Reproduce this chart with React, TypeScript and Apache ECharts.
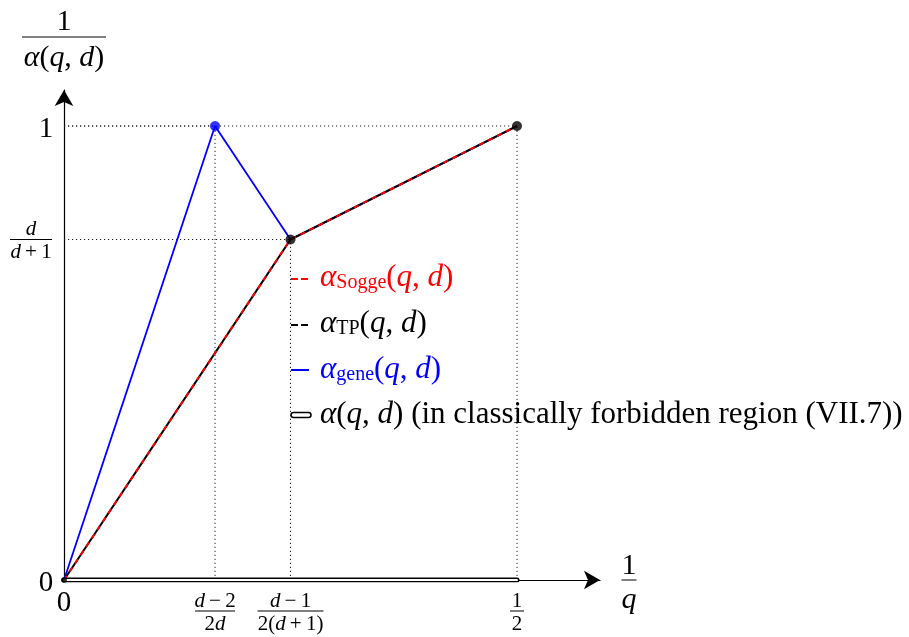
import React, { useEffect, useRef } from "react";
import * as echarts from "echarts";

// ---- data (d = 3) ----
const soggeX = [0, 0.25, 0.5];
const soggeY = [0, 0.75, 1];
const tpX = [0, 0.25, 0.5];
const tpY = [0, 0.75, 1];
const geneX = [0, 0.1667, 0.25, 0.5];
const geneY = [0, 1, 0.75, 1];
const forbiddenX = [0, 0.5];
const forbiddenY = [0, 0];
const blueDotsX = [0.1667];
const blueDotsY = [1];
const blackDotsX = [0.25, 0.5];
const blackDotsY = [0.75, 1];
const xTickValues = [0.1667, 0.25, 0.5];
const xTickNum = ["{i|d}{r|\u2009−\u20092}", "{i|d}{r|\u2009−\u20091}", "{r|1}"];
const xTickDen = ["{r|2}{i|d}", "{r|2(}{i|d}{r|\u2009+\u20091)}", "{r|2}"];
const yTickValues = [0.75];
const yTickNum = ["{i|d}"];
const yTickDen = ["{i|d}{r|\u2009+\u20091}"];

const FONT = "'Liberation Serif', 'DejaVu Serif', serif";

const zip = (xs: number[], ys: number[]) => xs.map((x, i) => [x, ys[i]]);

const richBase = (size: number) => ({
  r: { fontFamily: FONT, fontSize: size, color: "#000" },
  i: { fontFamily: FONT, fontSize: size, fontStyle: "italic", color: "#000" },
});

function fraction(cx: number, cy: number, num: string, den: string, size: number, w: number, gap = 1) {
  return [
    {
      type: "text",
      x: cx,
      y: cy - gap,
      style: { text: num, rich: richBase(size), align: "center", verticalAlign: "bottom", fontFamily: FONT, fontSize: size },
    },
    { type: "line", shape: { x1: cx - w / 2, y1: cy, x2: cx + w / 2, y2: cy }, style: { stroke: "#000", lineWidth: 1 } },
    {
      type: "text",
      x: cx,
      y: cy + gap,
      style: { text: den, rich: richBase(size), align: "center", verticalAlign: "top", fontFamily: FONT, fontSize: size },
    },
  ];
}

export default function App() {
  const ref = useRef<HTMLDivElement>(null);
  useEffect(() => {
    if (!ref.current) return;
    const chart = echarts.init(ref.current, undefined, { renderer: "svg" });

    const guides: any[] = [];
    const marked = [...zip(blueDotsX, blueDotsY), ...zip(blackDotsX, blackDotsY)];
    const guideStyle = { color: "#222", width: 1, type: [1.2, 2.8] };
    marked.forEach(([x, y], k) => {
      guides.push({ type: "line", name: "gh" + k, data: [[0, y], [x, y]], symbol: "none", silent: true, lineStyle: guideStyle, z: 1 });
      guides.push({ type: "line", name: "gv" + k, data: [[x, 0], [x, y]], symbol: "none", silent: true, lineStyle: guideStyle, z: 1 });
    });

    const LS = 31;
    const LH = 30;
    const legendRich = {
      a: { fontFamily: FONT, fontSize: LS, fontStyle: "italic", lineHeight: LH },
      s: { fontFamily: FONT, fontSize: 20, padding: [12, 0, 0, 0], lineHeight: LH - 12 },
      b: { fontFamily: FONT, fontSize: LS, lineHeight: LH },
      i: { fontFamily: FONT, fontSize: LS, fontStyle: "italic", lineHeight: LH },
    };
    const legendText: Record<string, string> = {
      Sogge: "{a|α}{s|Sogge}{b|(}{i|q}{b|, }{i|d}{b|)}",
      TP: "{a|α}{s|TP}{b|(}{i|q}{b|, }{i|d}{b|)}",
      gene: "{a|α}{s|gene}{b|(}{i|q}{b|, }{i|d}{b|)}",
      forbidden: "{a|α}{b|(}{i|q}{b|, }{i|d}{b|) (in classically forbidden region (VII.7))}",
    };

    chart.setOption({
      animation: false,
      grid: { left: 64, right: 909 - 600, top: 90, bottom: 57, containLabel: false },
      xAxis: {
        type: "value",
        min: 0,
        max: 0.5916,
        axisLine: { lineStyle: { color: "#000", width: 1.2 }, symbol: ["none", "arrow"], symbolSize: [14, 16] },
        axisTick: { show: false },
        axisLabel: { show: false },
        splitLine: { show: false },
      },
      yAxis: {
        type: "value",
        min: 0,
        max: 1.0793,
        axisLine: { show: true, lineStyle: { color: "#000", width: 1.2 }, symbol: ["none", "arrow"], symbolSize: [14, 16] },
        axisTick: { show: false },
        axisLabel: { show: false },
        splitLine: { show: false },
      },
      legend: {
        orient: "vertical",
        left: 291,
        top: 259,
        padding: 0,
        itemWidth: 24,
        itemHeight: 6,
        itemGap: 14,
        icon: "rect",
        itemStyle: { opacity: 0 },
        selectedMode: false,
        textStyle: { fontFamily: FONT, fontSize: LS, lineHeight: LH, rich: legendRich },
        formatter: (name: string) => legendText[name],
        data: [
          { name: "Sogge", textStyle: { color: "#ff0000" } },
          { name: "TP", textStyle: { color: "#000" } },
          { name: "gene", textStyle: { color: "#0000ff" } },
          { name: "forbidden", textStyle: { color: "#000" } },
        ],
      },
      series: [
        ...guides,
        {
          type: "line",
          name: "gene",
          data: zip(geneX, geneY),
          symbol: "none",
          lineStyle: { color: "#0000ff", width: 1.8 },
          itemStyle: { color: "#0000ff" },
          z: 2,
        },
        {
          type: "line",
          name: "TP",
          data: zip(tpX, tpY),
          symbol: "none",
          lineStyle: { color: "#000", width: 2 },
          itemStyle: { color: "#000" },
          z: 3,
        },
        {
          type: "line",
          name: "Sogge",
          data: zip(soggeX, soggeY),
          symbol: "none",
          lineStyle: { color: "#ff0000", width: 2, type: [5, 5] },
          itemStyle: { color: "#ff0000" },
          z: 4,
        },
        {
          type: "line",
          name: "forbidden",
          data: zip(forbiddenX, forbiddenY),
          symbol: "none",
          lineStyle: { color: "#000", width: 5, cap: "round" },
          itemStyle: { color: "#000" },
          z: 6,
        },
        {
          type: "line",
          name: "forbiddenInner",
          data: zip(forbiddenX, forbiddenY),
          symbol: "none",
          lineStyle: { color: "#fff", width: 2, cap: "round" },
          z: 7,
        },
        {
          type: "scatter",
          name: "blueDots",
          data: zip(blueDotsX, blueDotsY),
          symbolSize: 10,
          itemStyle: { color: "#0000ff" },
          z: 8,
        },
        {
          type: "scatter",
          name: "blackDots",
          data: zip(blackDotsX, blackDotsY),
          symbolSize: 10,
          itemStyle: { color: "#000" },
          z: 8,
        },
        {
          type: "scatter",
          name: "origin",
          data: [[0, 0]],
          symbolSize: 6,
          itemStyle: { color: "#000" },
          z: 9,
        },
      ],
    });

    const px = (x: number, y: number) => chart.convertToPixel({ gridIndex: 0 }, [x, y]) as number[];
    const o = px(0, 0);
    const g: any[] = [];
    // tick labels "0", "0", "1"
    const big = { fontFamily: FONT, fontSize: 29, align: "center", verticalAlign: "middle" };
    g.push({ type: "text", x: o[0] - 18, y: o[1] + 1, style: { text: "0", ...big } });
    g.push({ type: "text", x: o[0], y: o[1] + 21, style: { text: "0", ...big } });
    const one = px(0, 1);
    g.push({ type: "text", x: one[0] - 18, y: one[1] + 1, style: { text: "1", ...big } });
    const xw = [40, 66, 14];
    xTickValues.forEach((v, i) => {
      const p = px(v, 0);
      g.push(...fraction(p[0], p[1] + 31, xTickNum[i], xTickDen[i], 21, xw[i]));
    });
    yTickValues.forEach((v, i) => {
      const p = px(0, v);
      g.push(...fraction(p[0] - 33, p[1], yTickNum[i], yTickDen[i], 21, 42));
    });
    // axis titles
    const xEnd = px(0.5916, 0);
    g.push(...fraction(xEnd[0] + 29, xEnd[1], "{r|1}", "{i|q}", 30, 15, 2));
    const yEnd = px(0, 1.0793);
    g.push(...fraction(yEnd[0], yEnd[1] - 53, "{r|1}", "{i|α}{r|(}{i|q}{r|, }{i|d}{r|)}", 30, 84, 3));

    // legend icons (drawn beside the legend texts)
    const iconX = 291;
    const rows = [279, 325, 370, 415];
    g.push({ type: "line", shape: { x1: iconX, y1: rows[0], x2: iconX + 18, y2: rows[0] }, style: { stroke: "#ff0000", lineWidth: 2, lineDash: [7, 3] } });
    g.push({ type: "line", shape: { x1: iconX, y1: rows[1], x2: iconX + 18, y2: rows[1] }, style: { stroke: "#000", lineWidth: 2, lineDash: [7, 3] } });
    g.push({ type: "line", shape: { x1: iconX, y1: rows[2], x2: iconX + 18, y2: rows[2] }, style: { stroke: "#0000ff", lineWidth: 2 } });
    g.push({ type: "rect", shape: { x: iconX, y: rows[3] - 2.5, width: 20, height: 5, r: 2.5 }, style: { fill: "#fff", stroke: "#000", lineWidth: 1.5 } });

    chart.setOption({ graphic: g });

    return () => chart.dispose();
  }, []);
  return <div ref={ref} style={{ position: "fixed", left: 0, top: 0, width: 909, height: 637 }} />;
}
